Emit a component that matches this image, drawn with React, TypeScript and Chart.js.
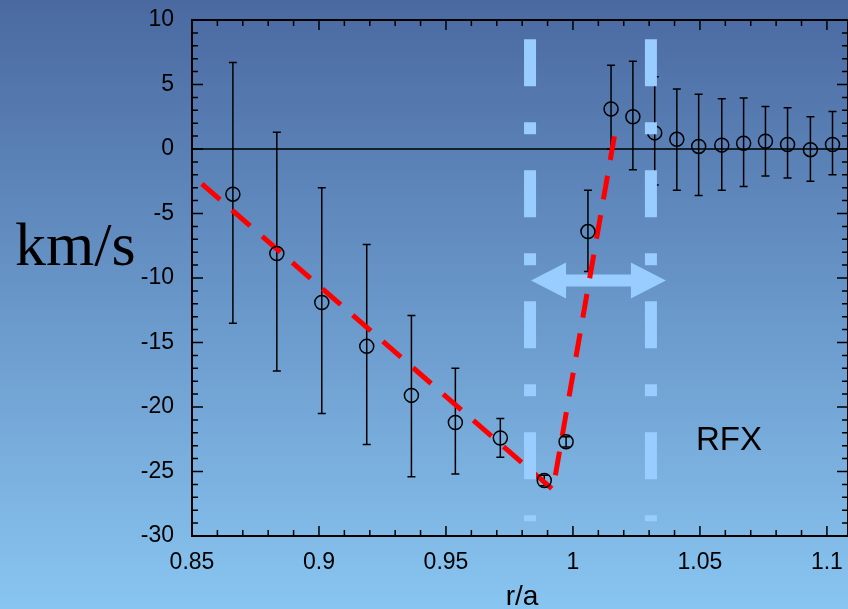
import { useEffect, useRef } from "react";
import { Chart, registerables } from "chart.js";

Chart.register(...registerables);

// Radial velocity profile vs normalised radius
const R_A = [
  0.8661, 0.8834, 0.9011, 0.9188, 0.9364, 0.9537, 0.9714, 0.9887, 0.9973, 1.0059, 1.015,
  1.0236, 1.0322, 1.0409, 1.0495, 1.0586, 1.0672, 1.0758, 1.0845, 1.0935, 1.1022,
];
const VEL = [
  -3.5, -8.1, -11.9, -15.3, -19.1, -21.2, -22.4, -25.7, -22.7, -6.4, 3.1,
  2.5, 1.25, 0.75, 0.2, 0.3, 0.45, 0.6, 0.35, -0.05, 0.35,
];
const VEL_HI = [
  6.7, 1.3, -3.0, -7.4, -12.9, -17.0, -20.9, -25.3, -22.3, -3.2, 6.5,
  6.8, 5.6, 4.65, 4.25, 3.9, 3.95, 3.3, 3.2, 2.5, 2.9,
];
const VEL_LO = [
  -13.5, -17.2, -20.5, -22.9, -25.4, -25.2, -23.9, -26.1, -23.1, -9.5, 0.0,
  -1.6, -2.8, -3.2, -3.6, -3.2, -2.9, -2.1, -2.25, -2.5, -2.0,
];

// Piecewise linear fit (red dashed)
const FIT_X = [0.8539, 0.9921, 1.0173];
const FIT_Y = [-2.7, -26.4, 2.1];

// Shear layer boundaries and width arrow
const EDGE_X = [0.9831, 1.0307];
const EDGE_Y = [8.5, -28.85];
const ARROW_X = [0.9835, 1.0366];
const ARROW_Y = -10.2;

const LABEL_TEXT = "RFX";
const LABEL_POS = [1.0614, -22.6];

const X_TICKS = [0.85, 0.9, 0.95, 1, 1.05, 1.1];
const Y_TICKS = [10, 5, 0, -5, -10, -15, -20, -25, -30];
const X_MIN = 0.85;
const X_MAX = 1.1083;
const Y_MIN = -30;
const Y_MAX = 10;

const SANS = "'Liberation Sans', Arial, sans-serif";
const SERIF = "'Liberation Serif', 'Times New Roman', serif";

const fmt = (v: number) => String(+Number(v).toFixed(2));

export default function App() {
  const ref = useRef<HTMLCanvasElement | null>(null);

  useEffect(() => {
    const canvas = ref.current;
    if (!canvas) return;

    const background = {
      id: "background",
      beforeDraw(chart: any) {
        const { ctx, width, height } = chart;
        const g = ctx.createLinearGradient(0, 0, 0, height);
        g.addColorStop(0, "#4a69a1");
        g.addColorStop(0.5, "#6997c9");
        g.addColorStop(1, "#89c5f1");
        ctx.save();
        ctx.fillStyle = g;
        ctx.fillRect(0, 0, width, height);
        ctx.restore();
      },
    };

    const underlay = {
      id: "underlay",
      beforeDatasetsDraw(chart: any) {
        const { ctx, chartArea, scales } = chart;
        const { x, y } = scales;
        ctx.save();
        // zero line
        ctx.strokeStyle = "#000";
        ctx.lineWidth = 1.5;
        const y0 = y.getPixelForValue(0);
        ctx.beginPath();
        ctx.moveTo(chartArea.left, y0);
        ctx.lineTo(chartArea.right, y0);
        ctx.stroke();

        // double-headed arrow
        const xa = x.getPixelForValue(ARROW_X[0]);
        const xb = x.getPixelForValue(ARROW_X[1]);
        const ya = y.getPixelForValue(ARROW_Y);
        const head = 35;
        const hh = 18;
        const sh = 6;
        ctx.fillStyle = "#99ccff";
        ctx.beginPath();
        ctx.moveTo(xa, ya);
        ctx.lineTo(xa + head, ya - hh);
        ctx.lineTo(xa + head, ya - sh);
        ctx.lineTo(xb - head, ya - sh);
        ctx.lineTo(xb - head, ya - hh);
        ctx.lineTo(xb, ya);
        ctx.lineTo(xb - head, ya + hh);
        ctx.lineTo(xb - head, ya + sh);
        ctx.lineTo(xa + head, ya + sh);
        ctx.lineTo(xa + head, ya + hh);
        ctx.closePath();
        ctx.fill();

        // error bars
        ctx.strokeStyle = "#000";
        ctx.lineWidth = 1.5;
        R_A.forEach((r, i) => {
          const px = x.getPixelForValue(r);
          const top = y.getPixelForValue(VEL_HI[i]);
          const bot = y.getPixelForValue(VEL_LO[i]);
          ctx.beginPath();
          ctx.moveTo(px, top);
          ctx.lineTo(px, bot);
          ctx.moveTo(px - 4, top);
          ctx.lineTo(px + 4, top);
          ctx.moveTo(px - 4, bot);
          ctx.lineTo(px + 4, bot);
          ctx.stroke();
        });
        ctx.restore();
      },
    };

    const frame = {
      id: "frame",
      afterDraw(chart: any) {
        const { ctx, chartArea, scales } = chart;
        const { left, right, top, bottom } = chartArea;
        const { x, y } = scales;
        ctx.save();
        ctx.strokeStyle = "#000";
        ctx.lineWidth = 2;
        ctx.beginPath();
        ctx.moveTo(left, top);
        ctx.lineTo(right, top);
        ctx.lineTo(right, bottom);
        ctx.lineTo(left, bottom);
        ctx.closePath();
        ctx.stroke();

        ctx.lineWidth = 1.5;
        ctx.beginPath();
        for (let k = 85; k <= 110; k++) {
          const v = k / 100;
          const major = k % 5 === 0;
          const len = major ? 10 : 6;
          const px = x.getPixelForValue(v);
          ctx.moveTo(px, bottom);
          ctx.lineTo(px, bottom - len);
          ctx.moveTo(px, top);
          ctx.lineTo(px, top + len);
        }
        for (let k = Y_MIN; k <= Y_MAX; k++) {
          const major = k % 5 === 0;
          const len = major ? 11 : 6;
          const py = y.getPixelForValue(k);
          ctx.moveTo(left, py);
          ctx.lineTo(left + len, py);
          ctx.moveTo(right, py);
          ctx.lineTo(right - len, py);
        }
        ctx.stroke();

        // texts
        ctx.fillStyle = "#000";
        ctx.textBaseline = "alphabetic";
        ctx.font = `62px ${SERIF}`;
        ctx.textAlign = "left";
        ctx.fillText("km/s", 15, 265);

        ctx.font = `28px ${SANS}`;
        ctx.textAlign = "center";
        ctx.fillText("r/a", (left + right) / 2 + 2, bottom + 69);

        ctx.font = `33px ${SANS}`;
        ctx.textBaseline = "middle";
        ctx.fillText(
          LABEL_TEXT,
          x.getPixelForValue(LABEL_POS[0]),
          y.getPixelForValue(LABEL_POS[1])
        );
        ctx.restore();
      },
    };

    const chart = new Chart(canvas, {
      type: "scatter",
      data: {
        datasets: [
          {
            type: "line",
            data: FIT_X.map((xv, i) => ({ x: xv, y: FIT_Y[i] })),
            borderColor: "#ff0000",
            borderWidth: 5,
            borderDash: [24, 16],
            borderCapStyle: "butt",
            pointRadius: 0,
            fill: false,
            tension: 0,
            order: 3,
          },
          {
            type: "scatter",
            data: R_A.map((xv, i) => ({ x: xv, y: VEL[i] })),
            pointStyle: "circle",
            pointRadius: 7,
            pointBorderWidth: 1.5,
            pointBorderColor: "#000",
            pointBackgroundColor: "rgba(0,0,0,0)",
            borderColor: "#000",
            backgroundColor: "rgba(0,0,0,0)",
            order: 2,
          },
          ...EDGE_X.map((xv) => ({
            type: "line" as const,
            data: [
              { x: xv, y: EDGE_Y[0] },
              { x: xv, y: EDGE_Y[1] },
            ],
            borderColor: "#99ccff",
            borderWidth: 12,
            borderDash: [47, 36, 12, 36],
            borderCapStyle: "butt" as const,
            pointRadius: 0,
            fill: false,
            order: 1,
          })),
        ],
      } as any,
      options: {
        responsive: false,
        animation: false,
        layout: { autoPadding: false, padding: { top: 20, left: 0, right: 0, bottom: 0 } },
        plugins: {
          legend: { display: false },
          tooltip: { enabled: false },
        },
        scales: {
          x: {
            type: "linear",
            min: X_MIN,
            max: X_MAX,
            grid: { display: false, drawTicks: false },
            border: { display: false },
            afterBuildTicks: (s: any) => {
              s.ticks = X_TICKS.map((v) => ({ value: v }));
            },
            afterFit: (s: any) => {
              s.height = 73;
              s.paddingLeft = 0;
              s.paddingRight = 0;
            },
            ticks: {
              padding: 13,
              color: "#000",
              font: { family: SANS, size: 23 },
              maxRotation: 0,
              autoSkip: false,
              callback: (v: any) => fmt(v),
            },
          },
          y: {
            type: "linear",
            min: Y_MIN,
            max: Y_MAX,
            grid: { display: false, drawTicks: false },
            border: { display: false },
            afterBuildTicks: (s: any) => {
              s.ticks = Y_TICKS.map((v) => ({ value: v }));
            },
            afterFit: (s: any) => {
              s.width = 192;
              s.paddingTop = 0;
              s.paddingBottom = 0;
            },
            ticks: {
              padding: 18,
              color: "#000",
              font: { family: SANS, size: 23 },
              autoSkip: false,
              callback: (v: any) => fmt(v),
            },
          },
        },
      } as any,
      plugins: [background, underlay, frame],
    });

    return () => chart.destroy();
  }, []);

  return (
    <div style={{ position: "fixed", left: 0, top: 0, width: 848, height: 609 }}>
      <canvas ref={ref} width={848} height={609} style={{ display: "block" }} />
    </div>
  );
}
